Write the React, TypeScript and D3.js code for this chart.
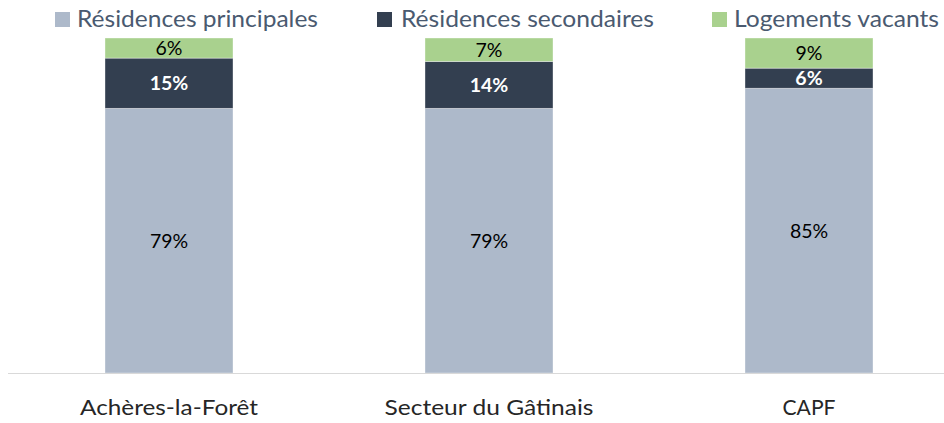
import React from "react";
import * as d3 from "d3";

const categories = ["Achères-la-Forêt", "Secteur du Gâtinais", "CAPF"];
const seriesNames = ["Résidences principales", "Résidences secondaires", "Logements vacants"];
const principales = [79, 79, 85];
const secondaires = [15, 14, 6];
const vacants = [6, 7, 9];
const colors = ["#ADB9CA", "#333F50", "#A9D18E"];
const labelColors = ["#000000", "#FFFFFF", "#000000"];
const labelWeights = ["normal", "bold", "normal"];

const W = 944;
const H = 423;
const FONT = "Lato, 'Open Sans', sans-serif";

export default function App() {
  const x = d3.scalePoint<string>().domain(categories).range([169, 809]);
  const y = d3.scaleLinear().domain([0, 100]).range([373, 38]);
  const barW = 128;

  const rows = categories.map((c, i) => ({
    cat: c,
    principales: principales[i],
    secondaires: secondaires[i],
    vacants: vacants[i],
  }));
  const keys = ["principales", "secondaires", "vacants"];
  const stacked = d3.stack<any>().keys(keys)(rows);

  const legendSquareX = [55, 377, 712];
  const legendTextX = [77, 401, 734];
  const legendTextW = [241, 253, 205];
  const catTextW = [178, 209, 53];

  return (
    <svg
      width={W}
      height={H}
      style={{ position: "absolute", left: 0, top: 0, background: "#fff" }}
      fontFamily={FONT}
    >
      {/* legend */}
      {seriesNames.map((name, i) => (
        <g key={name}>
          <rect x={legendSquareX[i]} y={12} width={15} height={15} fill={colors[i]} />
          <text
            x={legendTextX[i]}
            y={26.5}
            fontSize={23.5}
            fill="#4A5A70"
            textLength={legendTextW[i]}
            lengthAdjust="spacingAndGlyphs"
          >
            {name}
          </text>
        </g>
      ))}

      {/* bars */}
      {stacked.map((layer, si) => (
        <g key={layer.key}>
          {layer.map((d, ci) => {
            const cx = x(categories[ci]) as number;
            const y0 = y(d[1]);
            const y1 = y(d[0]);
            return (
              <rect
                key={ci}
                x={cx - barW / 2}
                y={y0}
                width={barW}
                height={y1 - y0}
                fill={colors[si]}
                stroke="#ffffff"
                strokeOpacity={0.45}
                strokeWidth={0.8}
              />
            );
          })}
        </g>
      ))}

      {/* value labels */}
      {stacked.map((layer, si) => (
        <g key={"l" + layer.key}>
          {layer.map((d, ci) => {
            const cx = x(categories[ci]) as number;
            const ym = (y(d[1]) + y(d[0])) / 2;
            return (
              <text
                key={ci}
                x={cx}
                y={ym}
                dy="0.36em"
                textAnchor="middle"
                fontSize={19.5}
                fontWeight={labelWeights[si]}
                fill={labelColors[si]}
              >
                {`${d[1] - d[0]}%`}
              </text>
            );
          })}
        </g>
      ))}

      {/* axis line */}
      <line x1={8} x2={W} y1={373.5} y2={373.5} stroke="#D9D9D9" strokeWidth={1.2} />

      {/* category labels */}
      {categories.map((c, i) => (
        <text
          key={c}
          x={(x(c) as number) - catTextW[i] / 2}
          y={415}
          fontSize={22}
          fill="#262626"
          textLength={catTextW[i]}
          lengthAdjust="spacingAndGlyphs"
        >
          {c}
        </text>
      ))}
    </svg>
  );
}
